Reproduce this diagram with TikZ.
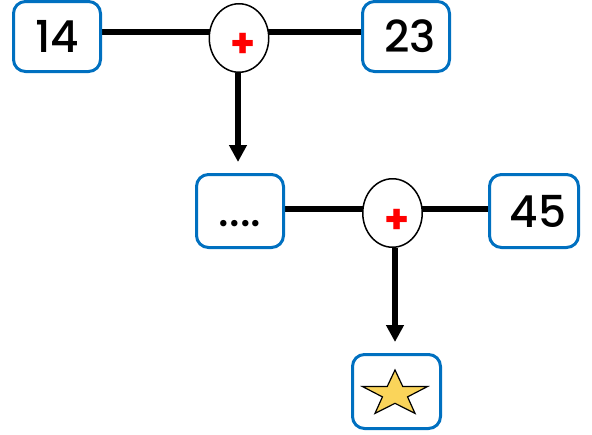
\documentclass[tikz,border=0pt]{standalone}
\usepackage{fontspec}
\setmainfont{Poppins}[UprightFont=* Medium, BoldFont=* Bold]
\usetikzlibrary{arrows.meta,backgrounds}
\definecolor{boxblue}{RGB}{0,112,192}
\definecolor{staryellow}{RGB}{250,212,90}
\tikzset{
  numbox/.style={draw=boxblue, line width=3pt, rounded corners=12pt, fill=white,
    inner sep=0pt, font=\fontsize{44}{50}\selectfont},
  opcircle/.style={draw=black, line width=1.5pt, ellipse, fill=white, inner sep=0pt,
    minimum width=59.5pt, minimum height=68.5pt},
  plussign/.style={text=red, font=\fontsize{40}{44}\bfseries\selectfont, inner sep=0pt},
  conn/.style={line width=6pt},
  flow/.style={line width=6.5pt, -{Triangle[width=17pt,length=17pt]}}
}
\usetikzlibrary{shapes.geometric}
\begin{document}
\begin{tikzpicture}[x=1pt,y=-1pt]
\useasboundingbox (0,0) rectangle (592,434);
\node[numbox, minimum width=87pt, minimum height=70pt] (b14) at (57,36.5) {14};
\node[numbox, minimum width=87pt, minimum height=70pt] (b23) at (406,36.5) {\hspace{8pt}23};
\node[numbox, minimum width=87pt, minimum height=73pt] (bdots) at (240,211) {\vphantom{45}....\hspace{10pt}};
\node[numbox, minimum width=89pt, minimum height=73pt] (b45) at (534,211) {\hspace{8pt}45};
\node[numbox, minimum width=88pt, minimum height=74pt] (bstar) at (396.5,391.5) {};
\node[opcircle] (c1) at (239,38) {};
\node[opcircle] (c2) at (392.5,213) {};
\node[plussign] (p1) at (243,45) {+};
\node[plussign] (p2) at (397,221) {+};
\coordinate (y1) at (0,32);
\coordinate (y2) at (0,209);
\coordinate (a1) at (238,0);
\coordinate (a2) at (395,0);
\begin{scope}[on background layer]
  \draw[conn] (b14.east |- y1) -- (b23.west |- y1);
  \draw[conn] (bdots.east |- y2) -- (b45.west |- y2);
\end{scope}
\draw[flow] (a1 |- c1.south) -- ([yshift=11pt]a1 |- bdots.north);
\draw[flow] (a2 |- c2.south) -- ([yshift=11pt]a2 |- bstar.north);
\begin{scope}[shift={(395,394)}, xscale=1.42]
  \draw[fill=staryellow, line width=1.2pt, line join=miter]
    (270:24) -- (306:9.3) -- (342:24) -- (18:9.3) -- (54:24) -- (90:9.3)
    -- (126:24) -- (162:9.3) -- (198:24) -- (234:9.3) -- cycle;
\end{scope}
\end{tikzpicture}
\end{document}
